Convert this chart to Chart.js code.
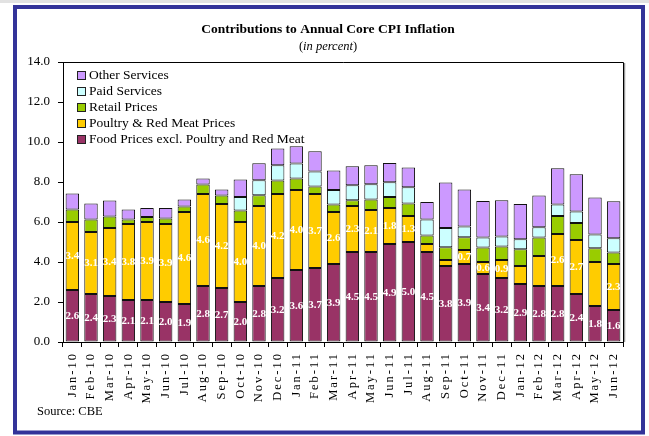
<!DOCTYPE html>
<html>
<head>
<meta charset="utf-8">
<script src="https://cdn.jsdelivr.net/npm/chart.js@4.4.1/dist/chart.umd.min.js"></script>
<style>
  html, body { margin: 0; padding: 0; background: #fff; }
  canvas { display: block; }
</style>
</head>
<body>
<canvas id="graficoCPI" width="649" height="436"></canvas>
<script>
// ===================================== Data ==================
const months = ["Jan-10","Feb-10","Mar-10","Apr-10","May-10","Jun-10","Jul-10","Aug-10","Sep-10","Oct-10","Nov-10","Dec-10",
                "Jan-11","Feb-11","Mar-11","Apr-11","May-11","Jun-11","Jul-11","Aug-11","Sep-11","Oct-11","Nov-11","Dec-11",
                "Jan-12","Feb-12","Mar-12","Apr-12","May-12","Jun-12"];

const foodExcl = [2.6,2.4,2.3,2.1,2.1,2.0,1.9,2.8,2.7,2.0,2.8,3.2,3.6,3.7,3.9,4.5,4.5,4.9,5.0,4.5,3.8,3.9,3.4,3.2,2.9,2.8,2.8,2.4,1.8,1.6];
const poultryMeat = [3.4,3.1,3.4,3.8,3.9,3.9,4.6,4.6,4.2,4.0,4.0,4.2,4.0,3.7,2.6,2.3,2.1,1.8,1.3,0.4,0.3,0.7,0.6,0.9,0.9,1.5,2.6,2.7,2.2,2.3];
const retailPrices = [0.62,0.62,0.57,0.22,0.25,0.27,0.27,0.47,0.42,0.57,0.54,0.67,0.57,0.37,0.37,0.29,0.52,0.55,0.62,0.42,0.64,0.64,0.72,0.67,0.84,0.92,0.9,0.85,0.69,0.57];
const paidServices = [0,0,0,0,0,0,0,0,0,0.68,0.75,0.77,0.75,0.75,0.73,0.75,0.77,0.74,0.82,0.8,0.96,0.53,0.5,0.5,0.5,0.52,0.57,0.57,0.68,0.72];
const otherServices = [0.8,0.8,0.8,0.5,0.45,0.53,0.35,0.3,0.3,0.87,0.85,0.83,0.87,1.02,0.97,0.95,0.95,0.96,0.98,0.88,2.27,1.85,1.83,1.82,1.76,1.58,1.82,1.87,1.85,1.85];

// which poultry segments carry a value label in the original
const poultryLabelled = [1,1,1,1,1,1,1,1,1,1,1,1,1,1,1,1,1,1,1,0,0,1,1,1,0,0,1,1,0,1];

const yTicks = [0,2,4,6,8,10,12,14];

const serif = "'Liberation Serif', 'Times New Roman', serif";


// ===================================== Frame, titles, legend, labels ==================
const decoPlugin = {
    id: 'deco',
    beforeDraw(chart) {
        const ctx = chart.ctx;
        ctx.save();
        ctx.fillStyle = '#fff';
        ctx.fillRect(0, 0, chart.width, chart.height);
        ctx.fillStyle = '#e2e2e2';
        ctx.fillRect(0, 0, chart.width, 3);
        ctx.strokeStyle = '#333399';
        ctx.lineWidth = 4;
        ctx.strokeRect(15, 7, 628, 425.5);

        ctx.fillStyle = '#000';
        ctx.textAlign = 'center';
        ctx.textBaseline = 'middle';
        ctx.font = 'bold 13.5px ' + serif;
        ctx.fillText('Contributions to Annual Core CPI Inflation', 328, 30);

        // subtitle with italic middle part
        const p1 = '(', p2 = 'in percent', p3 = ')';
        ctx.font = '12.5px ' + serif;
        const w1 = ctx.measureText(p1).width, w3 = ctx.measureText(p3).width;
        ctx.font = 'italic 12.5px ' + serif;
        const w2 = ctx.measureText(p2).width;
        let x = 328 - (w1 + w2 + w3) / 2;
        ctx.textAlign = 'left';
        ctx.font = '12.5px ' + serif;
        ctx.fillText(p1, x, 47);
        ctx.font = 'italic 12.5px ' + serif;
        ctx.fillText(p2, x + w1, 47);
        ctx.font = '12.5px ' + serif;
        ctx.fillText(p3, x + w1 + w2, 47);

        ctx.fillText('Source: CBE', 37, 412);
        ctx.restore();
    },
    afterDatasetsDraw(chart) {
        const ctx = chart.ctx;
        const area = chart.chartArea;
        ctx.save();

        // value labels on the two food segments
        ctx.fillStyle = '#fff';
        ctx.font = 'bold 11px ' + serif;
        ctx.textAlign = 'center';
        ctx.textBaseline = 'middle';
        [0, 1].forEach(di => {
            const meta = chart.getDatasetMeta(di);
            meta.data.forEach((bar, i) => {
                if (di === 1 && !poultryLabelled[i]) return;
                const v = chart.data.datasets[di].data[i];
                ctx.fillText(v.toFixed(1), bar.x, (bar.y + bar.base) / 2);
            });
        });

        // top and right border of the plot
        ctx.strokeStyle = '#999';
        ctx.lineWidth = 1.5;
        ctx.beginPath();
        ctx.moveTo(area.right + 1.5, area.top + 1);
        ctx.lineTo(area.right + 1.5, area.bottom);
        ctx.stroke();
        ctx.strokeStyle = '#000';
        ctx.lineWidth = 1;
        ctx.beginPath();
        ctx.moveTo(area.left, area.top + 0.5);
        ctx.lineTo(area.right + 0.5, area.top + 0.5);
        ctx.lineTo(area.right + 0.5, area.bottom);
        ctx.stroke();

        // legend inside the plot, reversed order
        const sets = chart.data.datasets.slice().reverse();
        ctx.font = '13.5px ' + serif;
        ctx.textAlign = 'left';
        ctx.fillStyle = '#000';
        sets.forEach((ds, k) => {
            const y = 75.5 + 16 * k;
            ctx.fillStyle = ds.backgroundColor;
            ctx.fillRect(77, y - 4.5, 9, 9);
            ctx.strokeStyle = '#222';
            ctx.lineWidth = 1;
            ctx.strokeRect(77.5, y - 4, 8, 8);
            ctx.fillStyle = '#000';
            ctx.fillText(ds.label, 89, y);
        });

        // rotated month labels with wide spacing
        const xs = chart.scales.x;
        ctx.font = '12.5px ' + serif;
        ctx.letterSpacing = '2px';
        ctx.textAlign = 'right';
        months.forEach((m, i) => {
            ctx.save();
            ctx.translate(xs.getPixelForValue(i), area.bottom + 10);
            ctx.rotate(-Math.PI / 2);
            ctx.fillText(m, 0, 0);
            ctx.restore();
        });
        ctx.restore();
    }
};


// ===================================== Chart ==================
function serie(label, data, color) {
    return {
        label: label,
        data: data,
        backgroundColor: color,
        borderColor: '#111',
        borderWidth: c => (c.raw === 0 ? 0 : 1),
        borderSkipped: false,
        barPercentage: 0.72,
        categoryPercentage: 1.0
    };
}

var chartCPI = new Chart(document.getElementById('graficoCPI'), {
    type: 'bar',
    data: {
        labels: months,
        datasets: [
            serie('Food Prices excl. Poultry and Red Meat', foodExcl, '#993366'),
            serie('Poultry & Red Meat Prices', poultryMeat, '#FFCC00'),
            serie('Retail Prices', retailPrices, '#99CC00'),
            serie('Paid Services', paidServices, '#CCFFFF'),
            serie('Other Services', otherServices, '#CC99FF')
        ]
    },
    options: {
        responsive: false,
        animation: false,
        devicePixelRatio: 1,
        layout: { padding: { left: 15, top: 62, right: 26, bottom: 39 } },
        plugins: {
            legend: { display: false },
            title: { display: false },
            tooltip: { enabled: false }
        },
        scales: {
            x: {
                stacked: true,
                grid: { drawOnChartArea: false, offset: true, tickLength: 5, color: '#000' },
                border: { color: '#000', width: 1 },
                ticks: { display: false },
                afterFit: s => { s.height = 55; }
            },
            y: {
                stacked: true,
                min: 0,
                max: 14,
                afterBuildTicks: s => { s.ticks = yTicks.map(v => ({ value: v })); },
                grid: { drawOnChartArea: false, tickLength: 5, color: '#000' },
                border: { color: '#000', width: 1 },
                ticks: {
                    padding: 8,
                    color: '#000',
                    font: { family: serif, size: 13 },
                    callback: v => Number(v).toFixed(1)
                },
                afterFit: s => { s.width = 48; }
            }
        }
    },
    plugins: [decoPlugin]
});
</script>
</body>
</html>
